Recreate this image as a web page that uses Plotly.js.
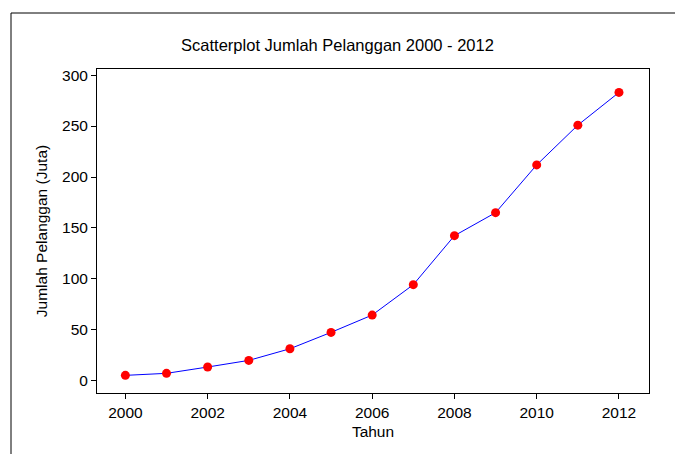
<!DOCTYPE html>
<html>
<head>
<meta charset="utf-8">
<script src="https://cdn.plot.ly/plotly-3.0.1.min.js"></script>
<style>html,body{margin:0;padding:0;background:#fff;}#chart{width:675px;height:454px;}</style>
</head>
<body>
<div id="chart"></div>
<script>
const years = [2000, 2001, 2002, 2003, 2004, 2005, 2006, 2007, 2008, 2009, 2010, 2011, 2012];
const pelanggan = [5.3, 7.3, 13.5, 20, 31.4, 47.5, 64.5, 94.3, 142.4, 165, 211.9, 250.9, 283];
const xTicks = [2000, 2002, 2004, 2006, 2008, 2010, 2012];
const yTicks = [0, 50, 100, 150, 200, 250, 300];

const font = {family: 'Liberation Sans, Arial, sans-serif', size: 15.5, color: '#000'};

const trace = {
  x: years, y: pelanggan, type: 'scatter', mode: 'lines+markers',
  line: {color: '#0000ff', width: 1},
  marker: {color: '#ff0000', size: 9},
  showlegend: false, hoverinfo: 'x+y'
};

const layout = {
  width: 675, height: 454,
  margin: {l: 97, r: 26, t: 69, b: 61},
  paper_bgcolor: '#fff', plot_bgcolor: '#fff',
  font: font,
  title: {text: 'Scatterplot Jumlah Pelanggan 2000 - 2012', font: {family: font.family, size: 16.5, color: '#000'},
          x: 0.5, xanchor: 'center', y: 1 - 45/454, yanchor: 'middle'},
  xaxis: {
    range: [1999.31, 2012.73], tickvals: xTicks, ticktext: xTicks.map(String),
    ticks: 'outside', ticklen: 5, tickcolor: '#000', tickwidth: 1,
    showgrid: false, zeroline: false, showline: true, linecolor: '#000', linewidth: 1, mirror: true,
    title: {text: 'Tahun', font: font, standoff: 6}, tickfont: font
  },
  yaxis: {
    range: [-12, 306], tickvals: yTicks, ticktext: yTicks.map(String),
    ticks: 'outside', ticklen: 5, tickcolor: '#000', tickwidth: 1,
    showgrid: false, zeroline: false, showline: true, linecolor: '#000', linewidth: 1, mirror: true,
    title: {text: 'Jumlah Pelanggan (Juta)', font: font, standoff: 10}, tickfont: font
  },
  shapes: [
    {type: 'line', xref: 'paper', yref: 'paper', x0: (11-97)/552, x1: (676-97)/552, y0: (393-13)/324, y1: (393-13)/324, line: {color: '#000', width: 1}},
    {type: 'line', xref: 'paper', yref: 'paper', x0: (11-97)/552, x1: (11-97)/552, y0: (393-13)/324, y1: (393-456)/324, line: {color: '#000', width: 1}}
  ]
};

Plotly.newPlot('chart', [trace], layout, {displayModeBar: false, staticPlot: true});
</script>
</body>
</html>
